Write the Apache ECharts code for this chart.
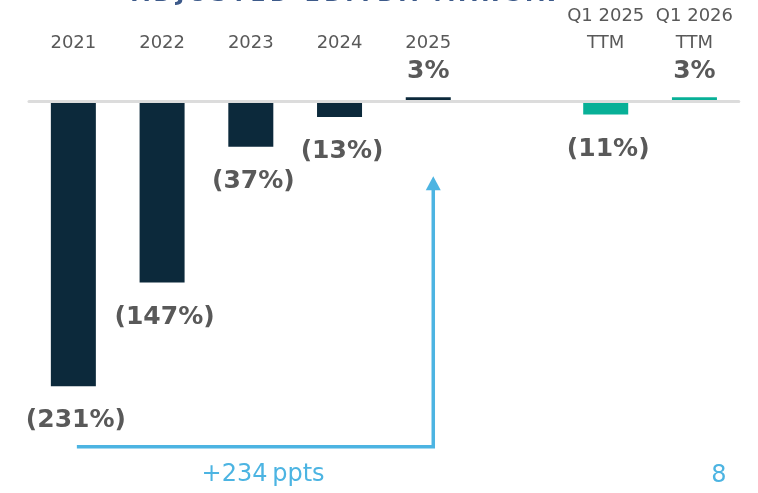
<!DOCTYPE html>
<html>
<head>
<meta charset="utf-8">
<script src="https://cdn.jsdelivr.net/npm/echarts@6/dist/echarts.min.js"></script>
<style>
html,body{margin:0;padding:0;background:#fff;}
#chart{width:758px;height:493px;}
</style>
</head>
<body>
<div id="chart"></div>
<script>
const categories = ['2021', '2022', '2023', '2024', '2025', '', 'Q1 2025\nTTM', 'Q1 2026\nTTM'];
const values = [-231, -147, -37, -13, 3, null, -11, 3];
const barColors = ['#0c293b', '#0c293b', '#0c293b', '#0c293b', '#0c293b', '#0c293b', '#08b097', '#08b097'];
const titleText = 'ADJUSTED EBITDA MARGIN';
const changeText = '+234\u2009ppts';
const pageNumber = '8';

const labelColor = '#595959';
const blue = '#4cb4e2';

const chart = echarts.init(document.getElementById('chart'));

const spacedTitle = titleText.split('').join('\u2009');

const option = {
  animation: false,
  grid: { left: 29, right: 19.2, top: 76.3, bottom: 21.5, containLabel: false, outerBoundsMode: 'none' },
  xAxis: {
    type: 'category',
    position: 'top',
    data: categories,
    z: 10,
    axisLine: { show: true, onZero: true, lineStyle: { color: '#dcdcdc', width: 3 } },
    axisTick: { show: false },
    axisLabel: {
      color: labelColor,
      fontFamily: 'DejaVu Sans',
      fontSize: 18,
      lineHeight: 27,
      margin: 19,
      interval: 0
    }
  },
  yAxis: {
    type: 'value',
    min: -300,
    max: 20,
    show: false,
    splitLine: { show: false }
  },
  series: [{
    type: 'bar',
    barWidth: 45,
    data: values.map((v, i) => ({
      value: v,
      itemStyle: { color: barColors[i] },
      label: {
        position: v < 0 ? 'bottom' : 'top',
        distance: v < 0 ? 22 : 13,
        offset: v < 0 ? [2.5, 0] : [0, 0]
      }
    })),
    label: {
      show: true,
      color: labelColor,
      fontFamily: 'DejaVu Sans',
      fontWeight: 'bold',
      fontSize: 25,
      formatter: p => p.value == null ? '' : (p.value < 0 ? '(' + Math.abs(p.value) + '%)' : p.value + '%')
    }
  }]
};
chart.setOption(option);

// annotation arrow computed from axis coordinates
const p2021 = chart.convertToPixel({ seriesIndex: 0 }, [0, -280]);
const p2025 = chart.convertToPixel({ seriesIndex: 0 }, [4, -280]);
const pTip = chart.convertToPixel({ seriesIndex: 0 }, [4, -61]);
const xStart = p2021[0] + 3.5;
const xV = p2025[0] + 5;
const yH = p2021[1];
const yTip = pTip[1];

chart.setOption({
  graphic: [
    {
      type: 'polyline',
      shape: { points: [[xStart, yH], [xV, yH], [xV, yTip + 12]] },
      style: { stroke: blue, lineWidth: 3.5, fill: null }
    },
    {
      type: 'polygon',
      shape: { points: [[xV, yTip], [xV - 7.5, yTip + 14], [xV + 7.5, yTip + 14]] },
      style: { fill: blue }
    },
    {
      type: 'text',
      x: (xStart + xV) / 2 + 8,
      y: 475,
      style: { text: changeText, fill: blue, font: '24px "DejaVu Sans"', textAlign: 'center', textVerticalAlign: 'middle' }
    },
    {
      type: 'text',
      x: 719,
      y: 476,
      style: { text: pageNumber, fill: blue, font: '24px "DejaVu Sans"', textAlign: 'center', textVerticalAlign: 'middle' }
    },
    {
      type: 'text',
      x: 344,
      y: -5,
      style: { text: spacedTitle, fill: '#3d5a8a', font: 'bold 22px "DejaVu Sans"', textAlign: 'center', textVerticalAlign: 'middle' }
    }
  ]
});
</script>
</body>
</html>
